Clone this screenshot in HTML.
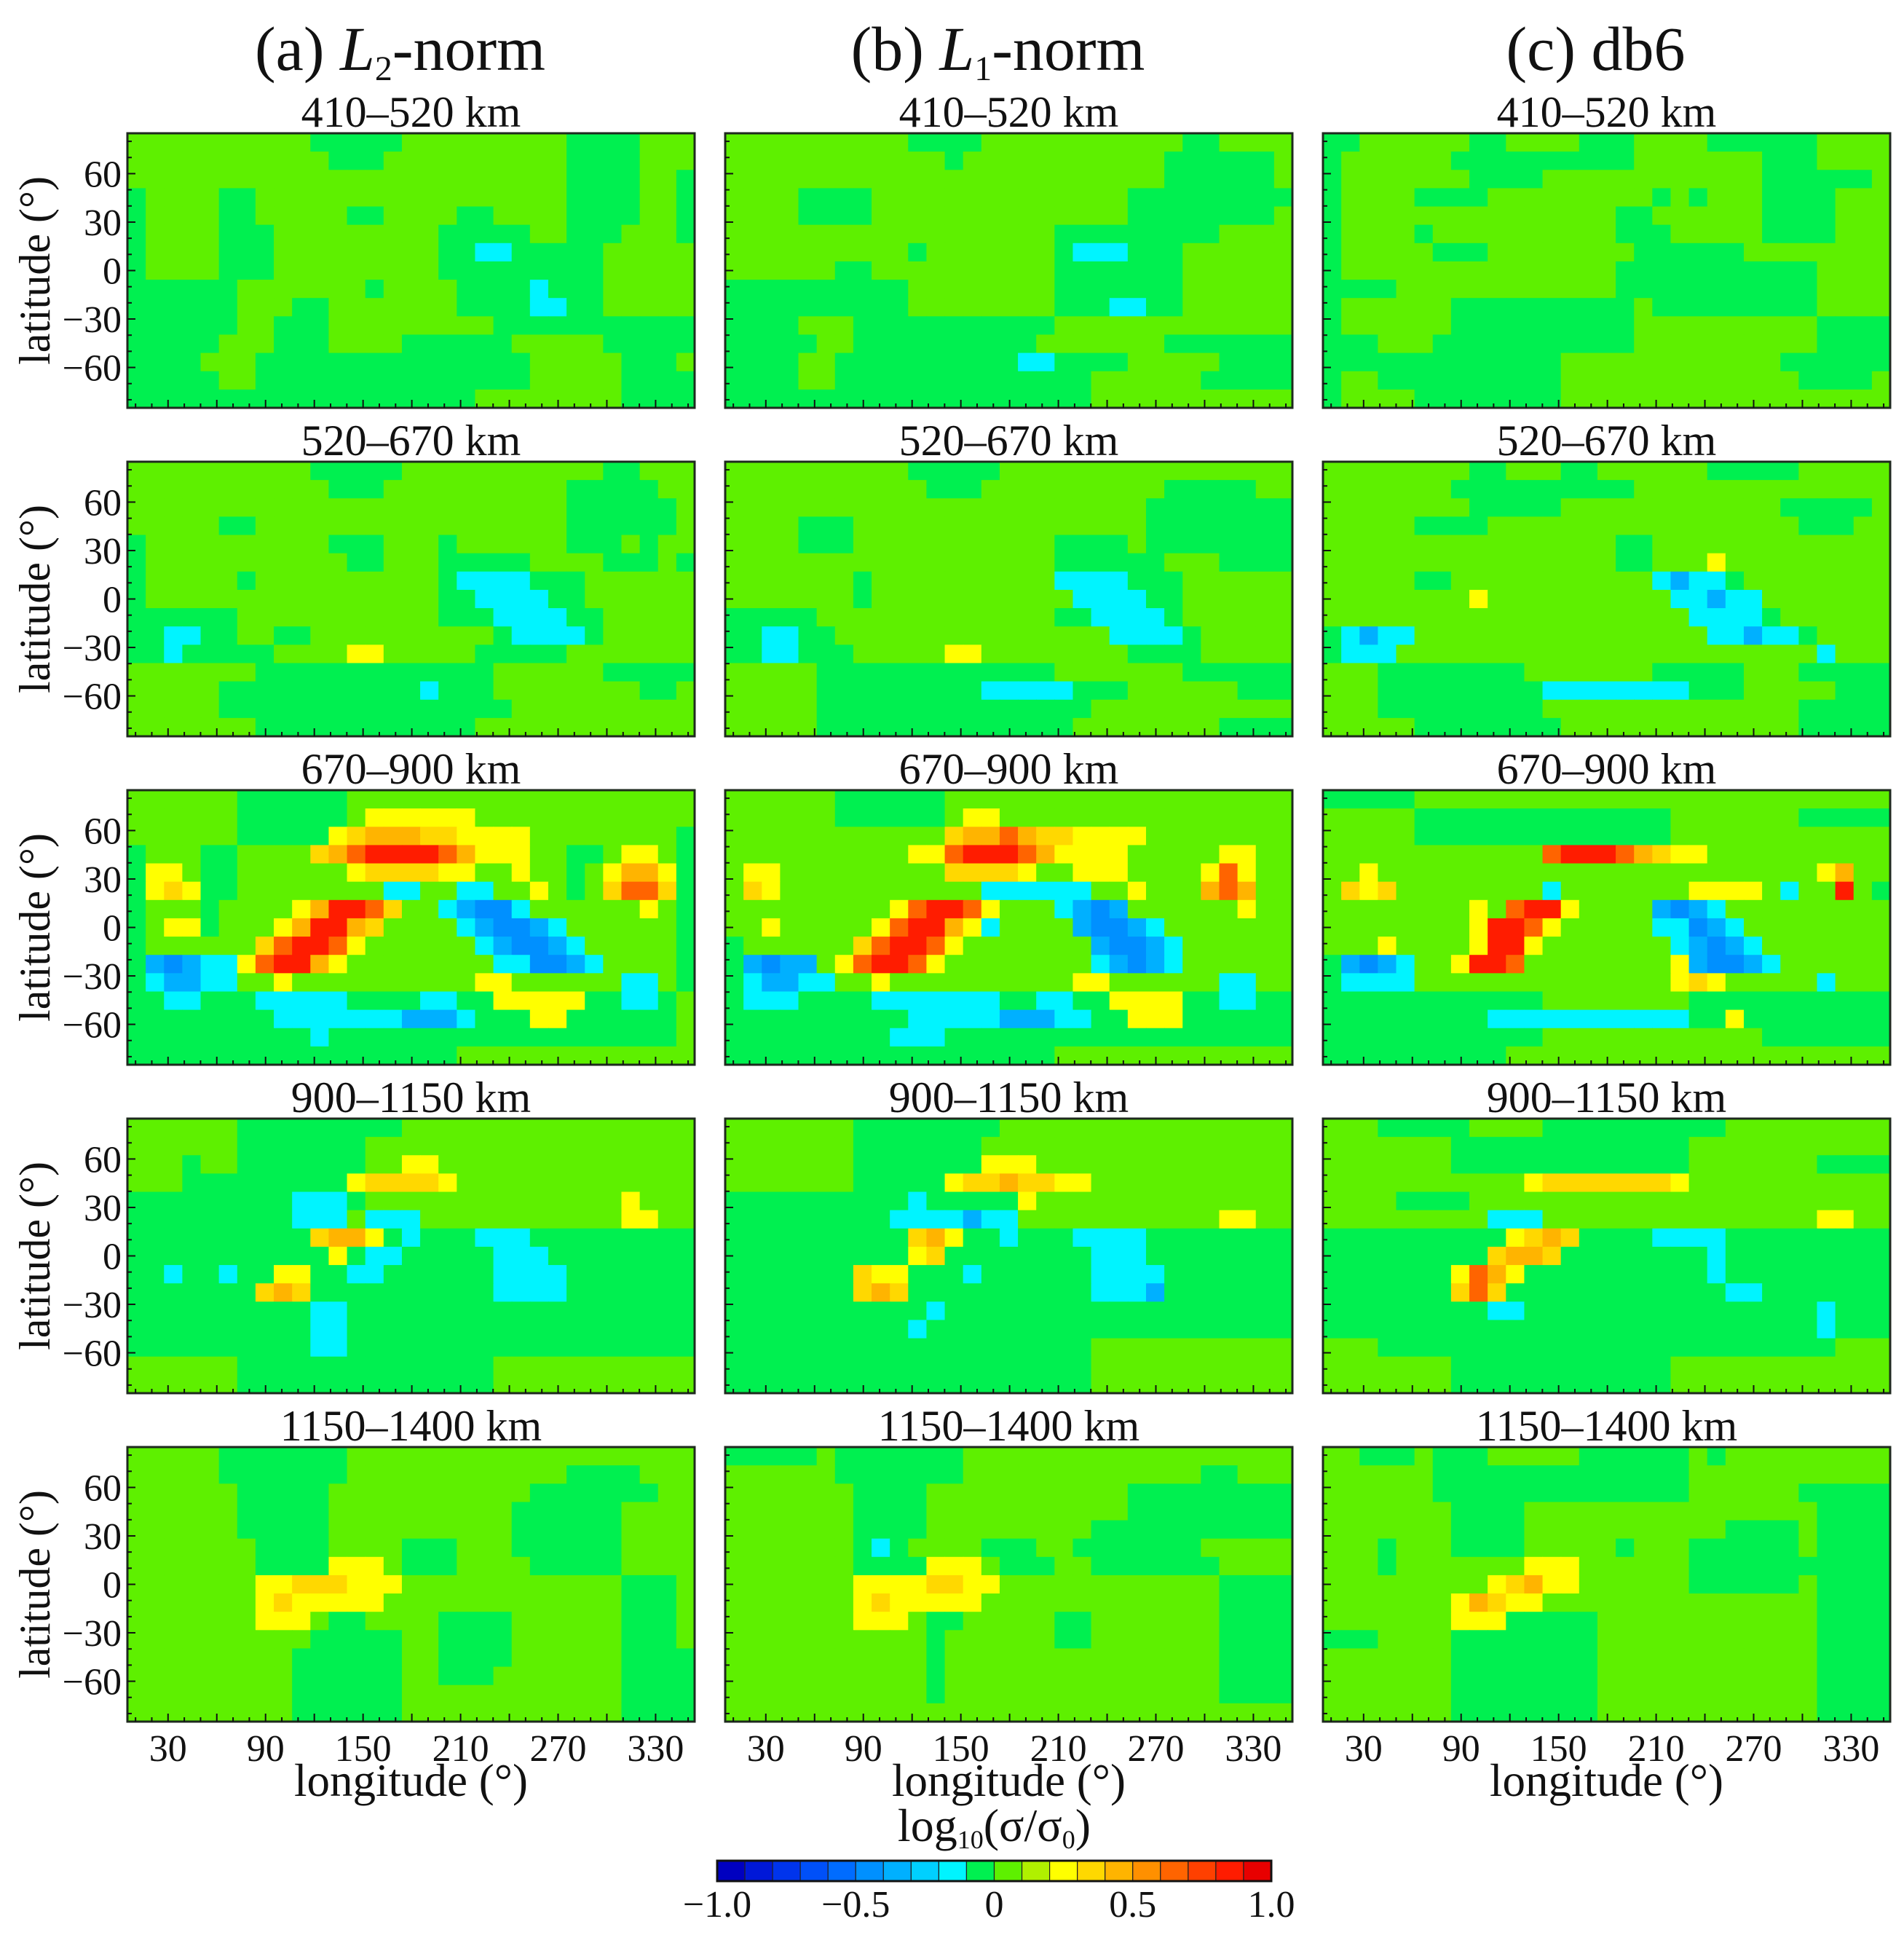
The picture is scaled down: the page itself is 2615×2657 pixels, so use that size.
<!DOCTYPE html>
<html><head><meta charset="utf-8">
<style>
html,body{margin:0;padding:0;background:#fff;}
svg{display:block;}
text{font-family:"Liberation Serif",serif;fill:#111;}
</style></head>
<body>
<svg id="fig" width="2615" height="2657" viewBox="0 0 2615 2657" xmlns="http://www.w3.org/2000/svg"></svg>
<script>
// ---------- data ----------
const methods = ["(a)", "(b)", "(c)"];
const depthLabels = ["410–520 km", "520–670 km", "670–900 km", "900–1150 km", "1150–1400 km"];
const latTicks = [60, 30, 0, -30, -60];
const lonTicks = [30, 90, 150, 210, 270, 330];
const cbTicks = [-1.0, -0.5, 0, 0.5, 1.0];
const cbTickLabels = ["−1.0", "−0.5", "0", "0.5", "1.0"];
// level codes -> log10(sigma/sigma0)
const levelValues = {B:-0.45, b:-0.35, c:-0.15, G:-0.05, g:0.05, y:0.25, Y:0.35, o:0.45, O:0.65, r:0.85};
// run-length encoded rows (north to south), 31 lon cells each
const l2_410 = ["10g5G9g4G3g","11g3G10g4G3g","24g4G2g1G","1G4g2G17g4G2g1G","1G4g2G5g2G4g2G4g4G2g1G","1G4g3G9g5G2g3G3g1G","1G4g3G9g2G2c5G5g","1G4g3G9g9G5g","6G7g1G4g4G1c3G5g","6G3g2G7g4G2c2G5g","6G2g3G9g11G","5G3g3G4g6G5g5G","4G3g15G5g3G1g","5G2g15G5g4G","19G8g4G"];
const l1_410 = ["10g4G11g2G4g","12g1G11g6G1g","24g6G1g","4g4G14g9G","4g4G14g8G1g","18g9G4g","10g1G7g1G3c3G6g","6g2G10g7G6g","10G8g7G6g","10G8g3G2c2G6g","4G3g11G13g","5G2g10G7g7G","4G2g10G2c4G5g4G","4G2g14G6g5G","20G11g"];
const db6_410 = ["2G6g2G4g3G4g6G4g","1G6g10G7g3G4g","1G7g4G12g6G1g","1G4g4G9g1G1g1G3g4G3g","1G15g2G6g4G3g","1G4g1G10g3G5g4G3g","1G5g3G8g6G8g","1G15g11G4g","4G12g11G4g","1G6g10G1g9G4g","1G6g10G10g4G","3G3g11G10g4G","13G12g6G","1G2g10G13g4G1g","1G4g8G18g"];
const l2_520 = ["10g5G11g2G3g","11g3G10g5G2g","24g6G1g","5g2G17g6G1g","1G10g3G3g1G6g3G1g1G2g","1G11g2G3g5G4g3G1g1G","1G5g1G10g1G4c3G6g","1G16g2G4c2G6g","6G11g3G4c2G5g","2G2c2G2g2G10g1G4c1G5g","2G1c5G4g2y5g5G7g","7g13G6g5G","5g11G1c3G8g2G1g","5g16G10g","7g12G12g"];
const l1_520 = ["10g5G16g","11g3G10g5G2g","23g8G","4g3G16g8G","4g3G11g4G1g8G","18g6G3g4G","7g1G10g4c3G6g","7g1G11g4c2G6g","5G13g2G4c1G6g","2G2c2G15g4c1G5g","2G2c3G5g2y8g4G5g","5g13G7g6G","5g9G5c3G6g3G","5g15G11g","5g14G8g4G"];
const db6_520 = ["8g2G3g2G6g5G5g","7g10G14g","8g5G12g5G1g","5g4G17g3G2g","16g2G13g","16g2G3g1y9g","5g2G11g1c1b2c1G8g","8g1y10g2c1b2c7g","20g4c1G6g","1G1c1b2c16g2c1b2c1G4g","1G3c23g1c3g","3g8G7g5G3g5G","3g9G8c3G5g3G","3g9G14g5G","5g8G13g5G"];
const l2_670 = ["6g6G19g","6g6G1g6y12g","6g5G1y1Y3o2Y4y8g1G","1G3g2G4g1Y1o1O4r1O1o3y2g2G1g2y1g1G","1G2y1g2G6g1y4Y2y2g1y2g1G1g1y2o1y1G","1G1y1Y1y2G8g2c2g2c2g1y1g1G1g1Y2O1Y1G","1G3g1G4g1y1o2r1O1Y2g1c1b2B1c6g1y1g1G","1G1g2y1G3g1y1o2r1o1Y4g1c1b2B1b1c6g1G","1G6g1Y1O2r1O1y6g1c1b2B1b1c5g1G","1G1b1B1b2c1y1O2r1o1y8g2c2B1b1c4g1G","1G1c2b2c2g1y10g2y6g2c1g1G","2G2c3G5c4G2c2G5y2G2c1G1g","8G7c3b1c3G2y6G1g","10G1c19G1g","18G13g"];
const l1_670 = ["6g6G19g","6g6G1g2y16g","12g1Y2o1O1o2Y4y8g","10g2y1O3r1O1o1y3y5g2y2g","1g2y9g4Y1y2g3y4g1y1O1y2g","1g1Y1y11g6c2g1y3g1o1O1o2g","9g1y1O2r1O1y3g1c1b1B1b6g1y2g","2g1y5g1y1O2r1o1y1c4g1b2B1b1c7g","1G6g1Y1O2r1O1y7g1b2B1b1c6g","1G1b1B2b1g1y1O2r1O1y8g1c1b1B1b1c6g","1G1c2b2c2g1y10g2y6g2c2g","1G3c4G7c2G2c2G4y2G2c2G","10G5c3b2c2G3y6G","9G3c19G","18G13g"];
const db6_670 = ["5G26g","5g14G7g5G","5g14G12g","12g1O3r1O1o1Y2y10g","2g1y24g1y1o2g","1g1Y1y1Y8g1c7g4y1g1c2g1r1g1G","8g1y1g1O2r1y4g1b1B1b1c9g","8g1y2r1O1y5g2c1B1b1c8g","3g1y4g1y2r1y7g1c1b1B1b1c7g","1G1b1B1b1c2g1y2r1O8g1y1b2B1b1c6g","1G4c14g1y1Y1y5g1c3g","12G8g11G","9G11c2G1y8G","12G12g7G","10G21g"];
const l2_900 = ["6g9G16g","6g7G18g","3g1G2g7G1g1g2y14g","3g3G6G1y4Y1y13g","9G3c1G14g1y3g","9G3c1g3c11g2y2g","10G1Y2o1y1G1c3G3c9G","11G1y1G2c5G3c8G","2G1c2G1c2G2y2G2c6G4c7G","7G1Y1o1Y10G4c7G","10G2c19G","10G2c19G","10G2c19G","6g14G11g","6g14G11g"];
const l1_900 = ["7g8G16g","7g7G17g","7g7G3y14g","7g5G1y1Y1Y1o1Y1Y1y1y11g","10G1c5G1y14g","9G4c1b2c11g2y2g","10G1Y1o1y2G1c3G4c8G","10G1y1Y8G3c8G","7G1Y2y3G1c6G4c7G","7G1Y1o1Y10G3c1b7G","11G1c19G","10G1c20G","20G11g","20G11g","20G11g"];
const db6_900 = ["3g5G4g10G9g","7g13G11g","7g13G7g4G","11g1y7Y1y11g","4g4G23g","9g3c15g2y2g","10G1y1Y1o1Y4G4c9G","9G1Y2o1Y8G1c9G","7G1y1O1o1y10G1c9G","7G1Y1O1Y12G2c7G","9G2c16G1c3G","27G1c3G","3g25G3g","7g12G12g","7g12G12g"];
const l2_1150 = ["5g7G19g","5g7G12g4G3g","6g5G11g7G2g","6g5G10g6G4g","6g5G10g6G4g","7g4G4g3G3g6G4g","7g4G3y1g3G4g5G4g","7g2y3Y3y12g3G1g","7g1y1Y5y13g3G1g","7g3y1g2G4g4G6g3G1g","10g5G2g4G6g3G1g","9g6G2g4G6g4G","9g6G2g3G7g4G","9g6G12g4G","9g6G12g4G"];
const l1_1150 = ["5G1g7G18g","6g7G13g2G3g","7g4G11g9G","7g4G11g9G","7g4G9g11G","7g1G1c1G4g3G2g7G5g","7g4G3y1g3G2g7G4g","7g4y2Y2y12g4G","7g1y1Y5y13g4G","7g3y1g2G5g2G7g4G","11g1G6g2G7g4G","11g1G15g4G","11g1G15g4G","11g1G15g4G","31g"];
const db6_1150 = ["2g3G1g3G5g6G1g1G9g","6g14G11g","6g14G6g5G","7g4G16g4G","7g4G11g4G1g4G","3g1G3g4G5g1G3g6G1g4G","3g1G7g3y6g7G4G","9g1y1Y1o2y6g6G1g4G","7g1y1o1Y2y15g4G","7g3y5G12g4G","3G4g8G12g4G","7g8G12g4G","7g8G12g4G","7g8G12g4G","7g8G12g4G"];
const panelData = [
  [l2_410, l1_410, db6_410],
  [l2_520, l1_520, db6_520],
  [l2_670, l1_670, db6_670],
  [l2_900, l1_900, db6_900],
  [l2_1150, l1_1150, db6_1150]
];

// ---------- layout ----------
const NS = "http://www.w3.org/2000/svg";
const svg = document.getElementById("fig");
const colLeft = [175, 996, 1817];
const rowTop = [183, 634, 1085, 1536, 1987];
const PW = 779, PH = 377, NLON = 31, NLAT = 15;
const LON0 = 5, LON1 = 354, LAT0 = -85, LAT1 = 85;
const palette = ["#0000c0","#0018d8","#0034ec","#0050f8","#006cff","#0090ff","#00b0ff","#00d0ff","#00f4ff","#00f050",
                 "#5ef000","#b0f000","#ffff00","#ffd800","#ffb400","#ff9000","#ff6400","#ff4000","#ff1c00","#e80000"];
function color(v){ let i = Math.floor((v + 1) * 10); if (i < 0) i = 0; if (i > 19) i = 19; return palette[i]; }
function xScale(col, lon){ return colLeft[col] + (lon - LON0) / (LON1 - LON0) * PW; }
function yScale(row, lat){ return rowTop[row] + (LAT1 - lat) / (LAT1 - LAT0) * PH; }
function decode(rle){ const out = []; const re = /(\d+)([A-Za-z])/g; let m; while ((m = re.exec(rle))) { for (let k = 0; k < +m[1]; k++) out.push(levelValues[m[2]]); } return out; }
function mk(tag, attrs, parent){ const e = document.createElementNS(NS, tag); for (const k in attrs) e.setAttribute(k, attrs[k]); (parent || svg).appendChild(e); return e; }

const dLon = (LON1 - LON0) / NLON, dLat = (LAT1 - LAT0) / NLAT;

for (let r = 0; r < 5; r++) {
  for (let c = 0; c < 3; c++) {
    const g = mk("g", {});
    
    
    const rows = panelData[r][c];
    for (let i = 0; i < NLAT; i++) {
      const vals = decode(rows[i] || "");
      const latTop = LAT1 - i * dLat, latBot = latTop - dLat;
      for (let j = 0; j < NLON; j++) {
        const v = vals[j] !== undefined ? vals[j] : 0.05;
        const lonL = LON0 + j * dLon, lonR = lonL + dLon;
        const x0 = xScale(c, lonL), x1 = xScale(c, lonR), y0 = yScale(r, latTop), y1 = yScale(r, latBot);
        const cell = mk("rect", {x: x0.toFixed(2), y: y0.toFixed(2), width: (x1 - x0 + 0.6).toFixed(2), height: (y1 - y0 + 0.6).toFixed(2), fill: color(v)}, g);
        
        
      }
    }
    const fr = mk("rect", {x: colLeft[c], y: rowTop[r], width: PW, height: PH, fill: "none", stroke: "#1e2a1e", "stroke-width": 3});
    
    
    for (let lat = -80; lat <= 80; lat += 10) {
      const y = yScale(r, lat), len = (lat % 30 === 0) ? 11 : 6;
      const t = mk("line", {x1: colLeft[c], x2: colLeft[c] + len, y1: y, y2: y, stroke: "#111", "stroke-width": 2});
      
      
    }
    for (let lon = 10; lon <= 350; lon += 10) {
      const x = xScale(c, lon), len = (lon % 30 === 0) ? 11 : 6;
      const t = mk("line", {x1: x, x2: x, y1: rowTop[r] + PH, y2: rowTop[r] + PH - len, stroke: "#111", "stroke-width": 2});
      
      
    }
    const st = mk("text", {x: colLeft[c] + PW / 2, y: rowTop[r] - 9, "font-size": 60, "text-anchor": "middle"});
    st.textContent = depthLabels[r];
    
    
    if (c === 0) {
      for (const lat of latTicks) {
        const tl = mk("text", {x: colLeft[0] - 8, y: yScale(r, lat) + 18, "font-size": 52, "text-anchor": "end"});
        tl.textContent = lat < 0 ? "−" + (-lat) : String(lat);
        
        
      }
      const cy = rowTop[r] + PH / 2;
      const yl = mk("text", {x: 0, y: 0, "font-size": 60, "text-anchor": "middle", transform: "translate(68," + cy + ") rotate(-90)"});
      yl.textContent = "latitude (°)";
      
      
    }
    if (r === 4) {
      for (const lon of lonTicks) {
        const xl = mk("text", {x: xScale(c, lon), y: 2418, "font-size": 52, "text-anchor": "middle"});
        xl.textContent = String(lon);
        
        
      }
      const xt = mk("text", {x: colLeft[c] + PW / 2, y: 2466, "font-size": 63, "text-anchor": "middle"});
      xt.textContent = "longitude (°)";
      
      
    }
  }
}
const titleNames = ["l2-norm-title", "l1-norm-title", "db6-title"];
for (let c = 0; c < 3; c++) {
  const t = mk("text", {x: colLeft[c] + PW / 2 - 15, y: 96, "font-size": 86, "text-anchor": "middle"});
  
  
  if (c < 2) {
    t.appendChild(document.createTextNode(methods[c] + " "));
    const L = document.createElementNS(NS, "tspan"); L.setAttribute("font-style", "italic"); L.textContent = "L"; t.appendChild(L);
    const s = document.createElementNS(NS, "tspan"); s.setAttribute("font-size", 48); s.setAttribute("dy", 14); s.textContent = (c === 0 ? "2" : "1"); t.appendChild(s);
    const n = document.createElementNS(NS, "tspan"); n.setAttribute("dy", -14); n.textContent = "-norm"; t.appendChild(n);
  } else {
    t.textContent = methods[c] + " db6";
  }
}
const CB_X0 = 985, CB_X1 = 1746, CB_Y = 2555, CB_H = 28;
function cbScale(v){ return CB_X0 + (v + 1) / 2 * (CB_X1 - CB_X0); }
for (let i = 0; i < 20; i++) {
  const v0 = -1 + i * 0.1;
  const b = mk("rect", {x: cbScale(v0), y: CB_Y, width: cbScale(v0 + 0.1) - cbScale(v0), height: CB_H, fill: palette[i], stroke: "#222", "stroke-width": 1.2});
  
  
}
const cbf = mk("rect", {x: CB_X0, y: CB_Y, width: CB_X1 - CB_X0, height: CB_H, fill: "none", stroke: "#111", "stroke-width": 3});


for (let i = 0; i < cbTicks.length; i++) {
  const t = mk("text", {x: cbScale(cbTicks[i]), y: 2632, "font-size": 52, "text-anchor": "middle"});
  t.textContent = cbTickLabels[i];
  
  
}
const cbt = mk("text", {x: (CB_X0 + CB_X1) / 2, y: 2528, "font-size": 64, "text-anchor": "middle"});


cbt.appendChild(document.createTextNode("log"));
const s1 = document.createElementNS(NS, "tspan"); s1.setAttribute("font-size", 36); s1.setAttribute("dy", 10); s1.textContent = "10"; cbt.appendChild(s1);
const s2 = document.createElementNS(NS, "tspan"); s2.setAttribute("dy", -10); s2.textContent = "(σ/σ"; cbt.appendChild(s2);
const s3 = document.createElementNS(NS, "tspan"); s3.setAttribute("font-size", 36); s3.setAttribute("dy", 10); s3.textContent = "0"; cbt.appendChild(s3);
const s4 = document.createElementNS(NS, "tspan"); s4.setAttribute("dy", -10); s4.textContent = ")"; cbt.appendChild(s4);
</script>
</body></html>
